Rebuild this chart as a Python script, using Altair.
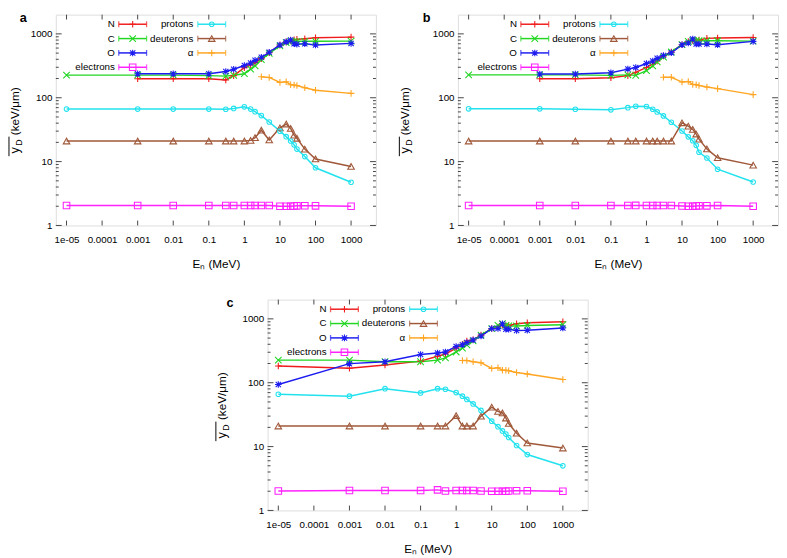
import math
import altair as alt
import pandas as pd

FONT = "Liberation Sans"

# ---------------- data ----------------
SERIES = ["N", "C", "O", "electrons", "protons", "deuterons", "α"]
COLORS = ["#f01c1c", "#22d622", "#1c1cf0", "#ff22ff", "#22e2ee", "#a0583a", "#ffa522"]

E = [1e-5, 1e-3, 1e-2, 0.1, 0.3, 0.5, 1, 1.5, 2, 3, 5, 10, 15, 20, 25, 30, 50, 100, 1000]

# panel a
a_N = [None, 198, 198, 198, 190, 222, 295, 325, 355, 410, 505, 670, 750, 790, 810, 820, 840, 870, 890]
a_C = [226, 226, 226, 222, 218, 225, 238, 280, 315, 395, 495, 650, 730, 760, 765, 765, 765, 765, 770]
a_O = [None, 238, 238, 238, 258, 280, 320, 350, 385, 430, 515, 670, 750, 800, 700, 690, 700, 670, 710]
a_el = [2.05, 2.05, 2.05, 2.05, 2.05, 2.05, 2.05, 2.05, 2.05, 2.05, 2.05, 2.0, 2.0, 2.0, 2.02, 2.03, 2.04, 2.03, 2.0]
a_p = [66.5, 66.5, 66.5, 66.5, 66, 68, 72, 66.5, 60.5, 52.6, 41.7, 30, 24.6, 21, 18.3, 15.7, 12, 8, 4.75]
a_d = [21, 21, 21, 21, 21, 21, 21, 21.5, 23.7, 31, 21.8, 33.8, 38.8, 33, 26, 23.2, 15.7, 11, 8.4]
a_alphaE = [3, 5, 10, 15, 20, 25, 30, 50, 100, 1000]
a_alpha = [213, 208, 174, 178, 160, 158, 155, 143, 131, 117]

# panel b
b_N = [None, 198, 198, 205, 222, 250, 298, 335, 377, 450, 518, 678, 760, 790, 790, 800, 850, 860, 880]
b_C = [228, 228, 228, 224, 228, 224, 265, 316, 364, 434, 520, 678, 760, 790, 780, 780, 780, 780, 770]
b_O = [None, 236, 236, 247, 281, 298, 343, 377, 414, 460, 506, 678, 720, 829, 695, 695, 695, 678, 763]
b_el = [2.05, 2.05, 2.05, 2.05, 2.05, 2.06, 2.05, 2.05, 2.05, 2.05, 2.05, 2.02, 2.0, 2.0, 2.02, 2.03, 2.03, 2.05, 2.0]
b_p = [67, 67, 66, 64.7, 70, 73.6, 73, 66, 60, 52, 41.4, 30.2, 24.4, 21.2, 18, 14, 11.4, 7.6, 4.8]
b_d = [21, 21, 21, 21, 21, 21, 21, 21, 21, 21, 21, 40.5, 36, 32, 27, 22.5, 15.8, 11.5, 8.8]
b_alphaE = [3, 5, 10, 15, 20, 25, 30, 50, 100, 1000]
b_alpha = [209, 209, 176, 180, 162, 160, 156, 147, 139, 112]

# panel c
c_N = [183, 169, 190, 218, 260, 282, 349, 400, 451, 470, 557, 704, 746, 800, 790, 790, 838, 870, 900]
c_C = [226, 226, 213, 213, 226, 245, 303, 349, 392, 451, 557, 704, 790, 838, 790, 773, 773, 790, 810]
c_O = [94, 199, 213, 276, 292, 303, 370, 392, 426, 468, 538, 704, 704, 838, 688, 688, 656, 664, 720]
c_el = [2.02, 2.05, 2.05, 2.05, 2.1, 2.02, 2.05, 2.05, 2.05, 2.05, 2.02, 2.0, 2.0, 2.0, 2.0, 2.02, 2.03, 2.03, 2.0]
c_p = [66, 61.6, 80.7, 69.3, 80.7, 78.9, 70, 61.6, 54.8, 46.6, 36.8, 25, 20.5, 17.6, 15.7, 13.9, 10.4, 7.5, 5.0]
c_d = [21, 21, 21, 21, 21, 21, 30.5, 21, 21, 21, 30, 41.4, 35.6, 33.6, 28, 23, 16.2, 11.4, 9.5]
c_alphaE = [1.5, 2, 3, 5, 10, 15, 20, 25, 30, 50, 100, 1000]
c_alpha = [223, 223, 213, 206, 167, 172, 157, 157, 154, 145, 137, 112]

X_TICKS = [1e-5, 1e-4, 1e-3, 1e-2, 0.1, 1, 10, 100, 1000]
Y_MAJOR = [1, 10, 100, 1000]
Y_MINOR = [m * 10 ** k for k in range(3) for m in range(2, 10)]

# ---------------- layout / style ----------------
W, H = 328, 216
XDOM = [5e-6, 5000]
YDOM = [1, 2000]
TC = "#444444"

PLUS = "M-1,0L1,0M0,-1L0,1"
CROSS = "M-1,-1L1,1M-1,1L1,-1"
STAR = "M-1,0L1,0M0,-1L0,1M-0.8,-0.8L0.8,0.8M-0.8,0.8L0.8,-0.8"
SHAPES = [PLUS, CROSS, STAR, "square", "circle", "triangle-up", PLUS]

XS = alt.Scale(type="log", domain=XDOM, nice=False)
YS = alt.Scale(type="log", domain=YDOM, nice=False)
CS = alt.Scale(domain=SERIES, range=COLORS)
SS = alt.Scale(domain=SERIES, range=SHAPES)

XAX = alt.Axis(values=X_TICKS, labelExpr="datum.value < 0.00005 ? '1e-05' : format(datum.value, '~g')",
               ticks=False, domain=False, grid=False, labelPadding=9, labelFontSize=10,
               labelColor="black", labelFont=FONT, labelOverlap=False, labelFlush=False,
               title="Eₙ (MeV)", titleFont=FONT, titleFontSize=12, titleFontWeight="normal",
               titleColor="black", titlePadding=15)
YAX = alt.Axis(values=Y_MAJOR, format="d", ticks=False, domain=False, grid=False,
               labelPadding=4, labelFontSize=10, labelColor="black", labelFont=FONT,
               labelFlush=False, title="")


def make_df(N, C, O, el, p, d, aE, a):
    rows = []
    for s, vals in [("N", N), ("C", C), ("O", O), ("electrons", el), ("protons", p), ("deuterons", d)]:
        for e, v in zip(E, vals):
            if v is not None:
                rows.append({"s": s, "E": e, "v": v})
    for e, v in zip(aE, a):
        rows.append({"s": "α", "E": e, "v": v})
    return pd.DataFrame(rows)


def xd(px):
    return 10 ** (math.log10(XDOM[0]) + px / W * math.log10(XDOM[1] / XDOM[0]))


def yd(py):
    return 10 ** (math.log10(YDOM[1]) - py / H * math.log10(YDOM[1] / YDOM[0]))


LEG = [("N", 0, 0), ("C", 0, 1), ("O", 0, 2), ("electrons", 0, 3),
       ("protons", 1, 0), ("deuterons", 1, 1), ("α", 1, 2)]
LAB_R = [60.5, 141.0]
LINE_L = [64.5, 145.5]
LINE_LEN = 28.5
leg_rows, cap_rows = [], []
for s, c, r in LEG:
    py = 9.8 + 14.7 * r
    x1 = LINE_L[c]
    x2 = x1 + LINE_LEN
    leg_rows.append({"s": s, "lx": xd(LAB_R[c]), "ly": yd(py), "x1": xd(x1), "x2": xd(x2),
                     "xm": xd((x1 + x2) / 2)})
    cap_rows.append({"s": s, "cx": xd(x1), "ly": yd(py)})
    cap_rows.append({"s": s, "cx": xd(x2), "ly": yd(py)})
LEG_DF = pd.DataFrame(leg_rows)
CAP_DF = pd.DataFrame(cap_rows)
ONE = pd.DataFrame({"k": [0]})


def panel(df, label, tx, tdx):
    X = lambda f: alt.X(f, type="quantitative", scale=XS, axis=XAX)
    Y = lambda f: alt.Y(f, type="quantitative", scale=YS, axis=YAX)
    col = alt.Color("s:N", scale=CS, legend=None)
    shp = alt.Shape("s:N", scale=SS, legend=None)

    xt = alt.Chart(pd.DataFrame({"E": X_TICKS})).mark_rule(color=TC, strokeWidth=1)
    ymaj = alt.Chart(pd.DataFrame({"v": Y_MAJOR})).mark_rule(color=TC, strokeWidth=1)
    ymin = alt.Chart(pd.DataFrame({"v": Y_MINOR})).mark_rule(color=TC, strokeWidth=1)
    ticks = [
        xt.encode(x=X("E"), y=alt.value(H), y2=alt.value(H - 5)),
        xt.encode(x=X("E"), y=alt.value(0), y2=alt.value(5)),
        ymaj.encode(y=Y("v"), x=alt.value(0), x2=alt.value(6)),
        ymaj.encode(y=Y("v"), x=alt.value(W), x2=alt.value(W - 6)),
        ymin.encode(y=Y("v"), x=alt.value(0), x2=alt.value(3)),
        ymin.encode(y=Y("v"), x=alt.value(W), x2=alt.value(W - 3)),
    ]

    base = alt.Chart(df)
    lines = base.mark_line(strokeWidth=1.5).encode(x=X("E"), y=Y("v"), color=col, detail="s:N")
    pts1 = base.transform_filter(alt.datum.s != "protons").mark_point(
        filled=False, size=45, strokeWidth=1.1, opacity=1).encode(x=X("E"), y=Y("v"), color=col, shape=shp)
    pts2 = base.transform_filter(alt.datum.s == "protons").mark_point(
        filled=False, size=22, strokeWidth=1.1, opacity=1).encode(x=X("E"), y=Y("v"), color=col, shape=shp)

    lg = alt.Chart(LEG_DF)
    leg_text = lg.mark_text(align="right", baseline="middle", fontSize=10, font=FONT, color="black").encode(
        x=X("lx"), y=Y("ly"), text="s:N")
    leg_line = lg.mark_rule(strokeWidth=1.5).encode(x=X("x1"), x2="x2:Q", y=Y("ly"), color=col)
    leg_pt1 = lg.transform_filter(alt.datum.s != "protons").mark_point(
        filled=False, size=45, strokeWidth=1.1, opacity=1).encode(x=X("xm"), y=Y("ly"), color=col, shape=shp)
    leg_pt2 = lg.transform_filter(alt.datum.s == "protons").mark_point(
        filled=False, size=22, strokeWidth=1.1, opacity=1).encode(x=X("xm"), y=Y("ly"), color=col, shape=shp)
    caps = alt.Chart(CAP_DF).mark_tick(orient="vertical", size=6, thickness=1.3).encode(
        x=X("cx"), y=Y("ly"), color=col)

    o = alt.Chart(ONE)
    t_units = o.mark_text(angle=270, fontSize=12, font=FONT, align="center", baseline="middle",
                          color="black", text="(keV/μm)").encode(x=alt.value(tx), y=alt.value(H / 2 - 9))
    t_y = o.mark_text(angle=270, fontSize=13, font=FONT, align="center", baseline="middle",
                      color="black", text="y").encode(x=alt.value(tx), y=alt.value(H / 2 + 31))
    t_d = o.mark_text(angle=270, fontSize=9, font=FONT, align="center", baseline="middle",
                      color="black", text="D").encode(x=alt.value(tx + 4), y=alt.value(H / 2 + 23))
    t_bar = o.mark_rule(color="black", strokeWidth=1).encode(
        x=alt.value(tx - 6), y=alt.value(H / 2 + 17), y2=alt.value(H / 2 + 37))
    t_lab = o.mark_text(fontSize=13, fontWeight="bold", font=FONT, align="left", baseline="alphabetic",
                        color="black", text=label).encode(x=alt.value(tdx), y=alt.value(8))

    return alt.layer(*ticks, lines, pts1, pts2, leg_line, caps, leg_pt1, leg_pt2, leg_text,
                     t_units, t_y, t_d, t_bar, t_lab).properties(width=W, height=H)


pa = panel(make_df(a_N, a_C, a_O, a_el, a_p, a_d, a_alphaE, a_alpha), "a", -42, -37)
pb = panel(make_df(b_N, b_C, b_O, b_el, b_p, b_d, b_alphaE, b_alpha), "b", -54, -36)
pc = panel(make_df(c_N, c_C, c_O, c_el, c_p, c_d, c_alphaE, c_alpha), "c", -47, -42)

spacer = alt.Chart(ONE).mark_text(text=" ").encode(x=alt.value(0), y=alt.value(0)).properties(
    width=162, height=H, view=alt.ViewBackground(stroke="transparent"))

row1 = alt.hconcat(pa, pb, spacing=22)
row2 = alt.hconcat(spacer, pc, spacing=0)
chart = alt.vconcat(row1, row2, spacing=23).properties(
    padding={"left": 0, "top": -3, "right": 0, "bottom": 0}
).configure_view(stroke=TC, strokeWidth=1).configure(background="white")

chart.save("out.html", embed_options={"renderer": "svg", "actions": False})
